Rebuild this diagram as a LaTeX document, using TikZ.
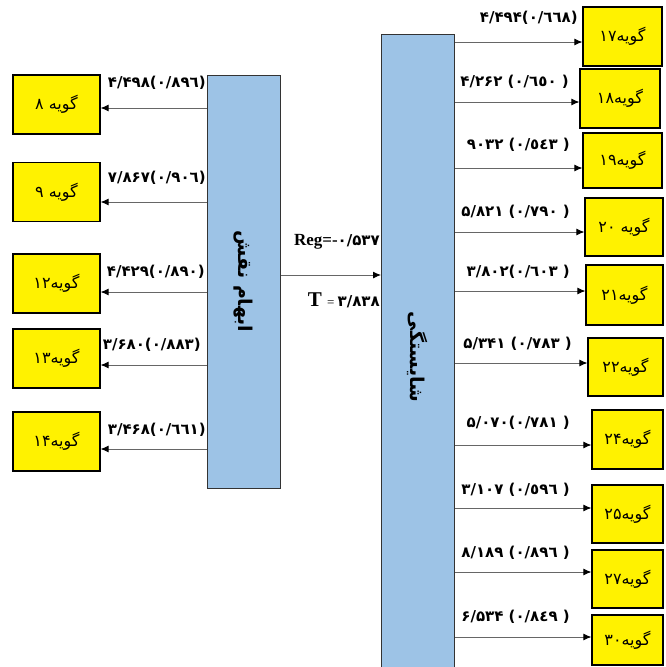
\documentclass[tikz,border=0pt]{standalone}
\usepackage{fontspec}
\setmainfont{Liberation Serif}
\newfontfamily\arabicfont[Script=Arabic]{DejaVu Sans}
\newfontfamily\digitfont{DejaVu Sans}
\usetikzlibrary{arrows.meta}
\TeXXeTstate=1

\definecolor{barblue}{RGB}{157,195,230}
\newcommand\itemfont{\arabicfont\fontsize{16}{18}\selectfont}
\newcommand\coeffont{\digitfont\bfseries\fontsize{15}{17}\selectfont}
\newcommand\tallfont{\arabicfont\bfseries\fontsize{19}{21}\selectfont}

\tikzset{
  item/.style={draw=black, line width=1.2pt, fill=yellow, minimum height=59pt, inner sep=0pt, font=\itemfont},
  factor/.style={draw=black!80, line width=1pt, fill=barblue, minimum width=73pt, inner sep=0pt},
  link/.style={draw=black!60, line width=0.9pt, -{Latex[length=8pt,width=7pt,black]}},
  coef/.style={inner sep=0pt, anchor=east, font=\coeffont},
}

\begin{document}
\begin{tikzpicture}[%
x=1pt, y=-1pt,
]
\useasboundingbox (0,0) rectangle (665,667);
\clip (0,0) rectangle (665,667);
%% factors;
\node[factor, minimum height=413pt] (ab) at (243.5,281.5) {\rotatebox{-90}{\tallfont\beginR ابهام نقش\endR}};
\node[factor, minimum height=646pt] (sh) at (418,357) {\rotatebox{-90}{\tallfont\beginR شایستگی\endR}};
%% items, left;
\node[item, minimum width=87pt] (g8) at (56.5,104.5) {\beginR گویه ۸\endR};
\node[item, minimum width=87pt] (g9) at (56.5,192) {\beginR گویه ۹\endR};
\node[item, minimum width=87pt] (g12) at (56.5,283.5) {\beginR گویه۱۲\endR};
\node[item, minimum width=87pt] (g13) at (56.5,358.5) {\beginR گویه۱۳\endR};
\node[item, minimum width=87pt] (g14) at (56.5,441.5) {\beginR گویه۱۴\endR};
%% items, right;
\node[item, minimum width=79pt] (g17) at (622.5,36.5) {\beginR گویه۱۷\endR};
\node[item, minimum width=80pt] (g18) at (620,98.5) {\beginR گویه۱۸\endR};
\node[item, minimum width=79pt, minimum height=55pt] (g19) at (622.5,160.5) {\beginR گویه۱۹\endR};
\node[item, minimum width=78pt, minimum height=58pt] (g20) at (624,227) {\beginR گویه ۲۰\endR};
\node[item, minimum width=77pt, minimum height=60pt] (g21) at (624.5,295) {\beginR گویه۲۱\endR};
\node[item, minimum width=75pt, minimum height=58pt] (g22) at (625.5,367) {\beginR گویه۲۲\endR};
\node[item, minimum width=71pt] (g24) at (627.5,439.5) {\beginR گویه۲۴\endR};
\node[item, minimum width=71pt, minimum height=58pt] (g25) at (627.5,514) {\beginR گویه۲۵\endR};
\node[item, minimum width=71pt, minimum height=58pt] (g27) at (627.5,579) {\beginR گویه۲۷\endR};
\node[item, minimum width=71pt, minimum height=50pt] (g30) at (627.5,640) {\beginR گویه۳۰\endR};
%% loadings, left;
\draw[link] ([yshift=-3.5pt]ab.west |- g8.east) -- ([yshift=-3.5pt]g8.east);
\draw[link] ([yshift=-10pt]ab.west |- g9.east) -- ([yshift=-10pt]g9.east);
\draw[link] ([yshift=-8.5pt]ab.west |- g12.east) -- ([yshift=-8.5pt]g12.east);
\draw[link] ([yshift=-6.5pt]ab.west |- g13.east) -- ([yshift=-6.5pt]g13.east);
\draw[link] ([yshift=-7.5pt]ab.west |- g14.east) -- ([yshift=-7.5pt]g14.east);
%% loadings, right;
\draw[link] ([yshift=-5.5pt]sh.east |- g17.west) -- ([yshift=-5.5pt]g17.west);
\draw[link] ([yshift=-3.5pt]sh.east |- g18.west) -- ([yshift=-3.5pt]g18.west);
\draw[link] ([yshift=-7.5pt]sh.east |- g19.west) -- ([yshift=-7.5pt]g19.west);
\draw[link] ([yshift=-5pt]sh.east |- g20.west) -- ([yshift=-5pt]g20.west);
\draw[link] ([yshift=4pt]sh.east |- g21.west) -- ([yshift=4pt]g21.west);
\draw[link] ([yshift=4pt]sh.east |- g22.west) -- ([yshift=4pt]g22.west);
\draw[link] ([yshift=-5.5pt]sh.east |- g24.west) -- ([yshift=-5.5pt]g24.west);
\draw[link] ([yshift=6pt]sh.east |- g25.west) -- ([yshift=6pt]g25.west);
\draw[link] ([yshift=7pt]sh.east |- g27.west) -- ([yshift=7pt]g27.west);
\draw[link] ([yshift=3pt]sh.east |- g30.west) -- ([yshift=3pt]g30.west);
%% path between factors;
\draw[link] ([yshift=6.5pt]ab.east) -- ([yshift=6.5pt]ab.east -| sh.west);
%% labels;
\node[coef] (l8) at (206,83) {\beginL ۴/۴۹۸(۰/۸۹٦)\endL};
\node[coef] (l9) at (206,178) {\beginL ۷/۸۶۷(۰/۹۰٦)\endL};
\node[coef] (l12) at (205,272) {\beginL ۴/۴۲۹(۰/۸۹۰)\endL};
\node[coef] (l13) at (201,345) {\beginL ۳/۶۸۰(۰/۸۸۳)\endL};
\node[coef] (l14) at (206,430) {\beginL ۳/۴۶۸(۰/٦٦۱)\endL};
\node[coef] (l17) at (578,18) {\beginL ۴/۴۹۴(۰/٦٦۸)\endL};
\node[coef] (l18) at (569,82) {\beginL ۴/۲۶۲~(۰/٦٥۰~)\endL};
\node[coef] (l19) at (570,145) {\beginL ۹۰۳۲~(۰/٥٤۳~)\endL};
\node[coef] (l20) at (570,212) {\beginL ۵/۸۲۱~(۰/۷۹۰~)\endL};
\node[coef] (l21) at (570,272) {\beginL ۳/۸۰۲(۰/٦۰۳~)\endL};
\node[coef] (l22) at (572,344) {\beginL ۵/۳۴۱~(۰/۷۸۳~)\endL};
\node[coef] (l24) at (570,423) {\beginL ۵/۰۷۰(۰/۷۸۱~)\endL};
\node[coef] (l25) at (570,490) {\beginL ۳/۱۰۷~(۰/٥٩٦~)\endL};
\node[coef] (l27) at (570,553) {\beginL ۸/۱۸۹~(۰/۸۹٦~)\endL};
\node[coef] (l30) at (570,617) {\beginL ۶/۵۳۴~(۰/۸٤۹~)\endL};
\node[coef] (reg) at (380,242) {\beginL\rmfamily\bfseries\fontsize{17}{19}\selectfont Reg=-\coeffont ۰/۵۳۷\endL};
\node[coef] (tv) at (380,300) {\beginL\rmfamily\bfseries\fontsize{21}{23}\selectfont T \mdseries\fontsize{13}{15}\selectfont= \coeffont ۳/۸۳۸\endL};
\end{tikzpicture}
\end{document}
